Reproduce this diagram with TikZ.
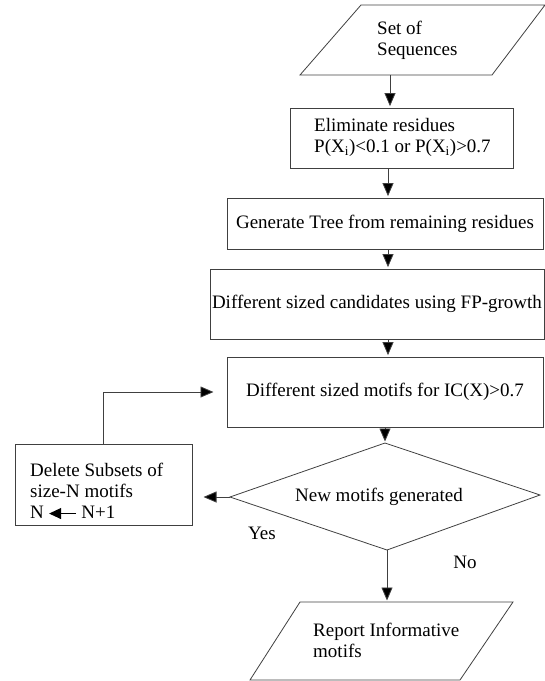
\documentclass[tikz,border=0pt]{standalone}
\usepackage{fontspec}
\setmainfont{Liberation Serif}
\usetikzlibrary{arrows.meta}
\begin{document}
\begin{tikzpicture}[x=1pt,y=-1pt,
  lin/.style={draw=black!75, line width=0.8pt},
  boxn/.style={lin, rectangle, inner sep=0pt, font=\fontsize{19}{21}\selectfont},
  txt/.style={inner sep=0pt, font=\fontsize{19}{21}\selectfont, align=left},
  arr/.style={lin, -{Triangle[length=13pt,width=11pt,fill=black]}, shorten >=1.5pt},
  lab/.style={inner sep=0pt, font=\fontsize{19}{21}\selectfont}]
\useasboundingbox (0,0) rectangle (545,681);
% parallelogram 1
\coordinate (p1a) at (361,5); \coordinate (p1b) at (545,5);
\coordinate (p1c) at (492,75); \coordinate (p1d) at (300,75);
\draw[lin] (p1a) -- (p1b) -- (p1c) -- (p1d) -- cycle;
\node[txt, anchor=west] (sets) at (377,40) {Set of\\Sequences};
\coordinate (p1out) at (390,75);
% boxes
\node[boxn, minimum width=223pt, minimum height=60pt] (elim) at (401.5,138) {};
\node[txt, anchor=west] (elimt) at (314,137.5) {Eliminate residues\\P(X\textsubscript{i})<0.1 or P(X\textsubscript{i})>0.7};
\node[boxn, minimum width=316pt, minimum height=51pt] (tree) at (385,223.5) {Generate Tree from remaining residues};
\node[boxn, minimum width=334pt, minimum height=70pt] (cand) at (377,304) {Different sized candidates using FP-growth};
\node[boxn, minimum width=316pt, minimum height=70pt] (motif) at (385,392) {Different sized motifs for IC(X)>0.7};
\node[boxn, minimum width=177pt, minimum height=81pt] (del) at (103.5,484.5) {};
\node[txt, anchor=west] (delt) at (30,491) {Delete Subsets of\\size-N motifs\\N \tikz[baseline=-0.55ex]\draw[line width=0.9pt,-{Triangle[length=12pt,width=11pt]}] (27pt,0) -- (0,0);\ N+1};
% diamond
\coordinate (dl) at (230,497); \coordinate (dt) at (385,443);
\coordinate (dr) at (540,495); \coordinate (db) at (387,550);
\draw[lin] (dl) -- (dt) -- (dr) -- (db) -- cycle;
\node[lab] (newm) at (379,497) {New motifs generated};
% parallelogram 2
\coordinate (p2a) at (300,602); \coordinate (p2b) at (513,602);
\coordinate (p2c) at (460,680); \coordinate (p2d) at (250,680);
\draw[lin] (p2a) -- (p2b) -- (p2c) -- (p2d) -- cycle;
\node[txt, anchor=west] (rep) at (313,640) {Report Informative\\motifs};
\coordinate (p2in) at (387,602);
% labels
\node[lab] (yes) at (262,533) {Yes};
\node[lab] (no) at (465,562) {No};
% connectors
\draw[arr] (p1out) -- (elim.north -| p1out);
\coordinate (c2) at (388,0);
\draw[arr] (elim.south -| c2) -- (tree.north -| c2);
\draw[arr] (tree.south -| c2) -- (cand.north -| c2);
\draw[arr] (cand.south -| c2) -- (motif.north -| c2);
\draw[arr] (motif.south -| dt) -- (dt);
\coordinate (yesend) at (202,497);
\draw[arr] (dl) -- (yesend);
\coordinate (loopend) at (215,392);
\draw[arr] (del.north) |- (loopend);
\draw[arr] (db) -- (p2in);
\end{tikzpicture}
\end{document}
